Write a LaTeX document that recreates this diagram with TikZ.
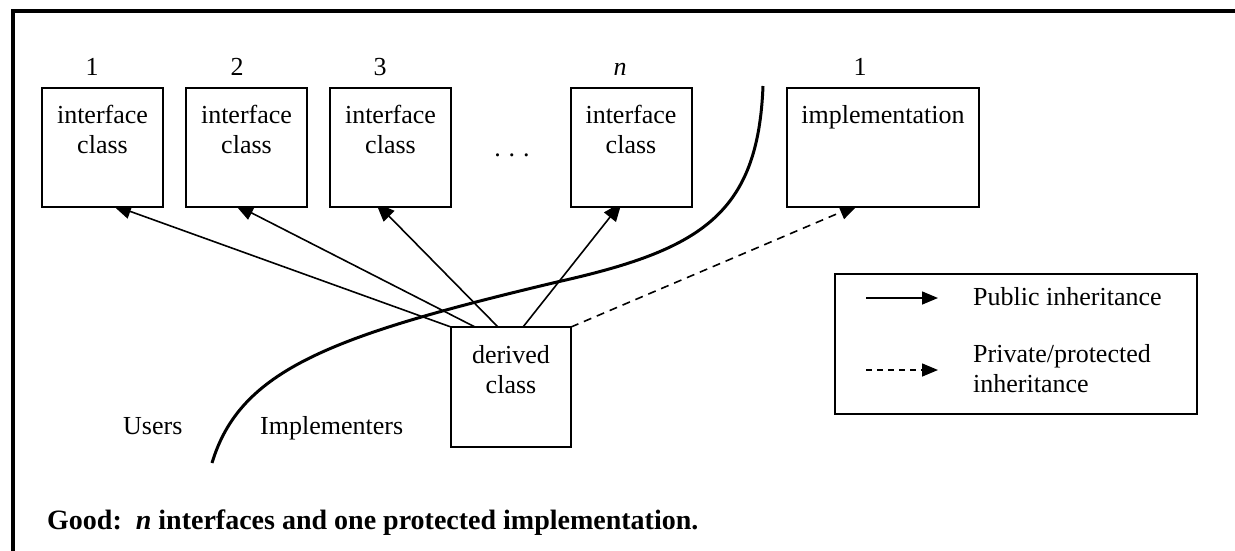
\documentclass[tikz,border=0pt]{standalone}
\usepackage{fontspec}
\setmainfont{Liberation Serif}
\usetikzlibrary{arrows.meta}
\pgfdeclarelayer{background}
\pgfsetlayers{background,main}
\begin{document}
\begin{tikzpicture}[x=1pt,y=-1pt,
  cls/.style={draw, line width=2pt, fill=white, minimum width=121pt, minimum height=119pt, anchor=north west, inner sep=0pt, outer sep=0pt},
  txt/.style={font=\fontsize{26}{30}\selectfont, inner sep=0pt},
  boxtxt/.style={txt, anchor=base, text width=120pt, align=center},
  pub/.style={line width=1.6pt, -{Triangle[length=19pt,width=15pt]}, shorten >=-6pt},
  priv/.style={pub, dash pattern=on 8pt off 6pt},
  divider/.style={line width=3pt},
  frame/.style={line width=4pt}]
\useasboundingbox (0,0) rectangle (1235,550);
\draw[frame] (1240,11) -- (13,11) -- (13,555);

% classes
\node[cls] (i1) at (42,88) {};
\node[cls] (i2) at (186,88) {};
\node[cls] (i3) at (330,88) {};
\node[cls] (in) at (571,88) {};
\node[cls, minimum width=192pt] (im) at (787,88) {};
\node[cls, minimum width=120pt, minimum height=120pt] (d) at (451,327) {};

\node[boxtxt] (i1t) at (102.5,123) {interface\\class};
\node[boxtxt] (i2t) at (246.5,123) {interface\\class};
\node[boxtxt] (i3t) at (390.5,123) {interface\\class};
\node[boxtxt] (int) at (631,123) {interface\\class};
\node[boxtxt, text width=190pt] (imt) at (883,123) {implementation};
\node[boxtxt] (dt) at (511,363) {derived\\class};

\node[txt, anchor=base] (l1) at (92,75) {1};
\node[txt, anchor=base] (l2) at (237,75) {2};
\node[txt, anchor=base] (l3) at (380,75) {3};
\node[txt, anchor=base] (ln) at (620,75) {\textit{n}};
\node[txt, anchor=base] (l5) at (860,75) {1};
\node[txt, anchor=base] (dots) at (512,156) {.\kern8pt.\kern8pt.};

% inheritance arrows
\begin{pgfonlayer}{background}
\draw[pub] (d.north west) -- ([xshift=76pt]i1.south west);
\draw[pub] ([xshift=24pt]d.north west) -- ([xshift=54pt]i2.south west);
\draw[pub] ([xshift=47pt]d.north west) -- ([xshift=50pt]i3.south west);
\draw[pub] ([xshift=72pt]d.north west) -- ([xshift=47pt]in.south west);
\draw[priv] (d.north east) -- ([xshift=66pt]im.south west);
\end{pgfonlayer}

% divider curve
\coordinate (c1) at (763,86);
\coordinate (c2) at (557,282);
\coordinate (c3) at (212,463);
\draw[divider] (c1) .. controls (758,215) and (700,250) .. (c2)
  .. controls (330,336) and (240,370) .. (c3);

\node[txt, anchor=base west] (users) at (123,434) {Users};
\node[txt, anchor=base west] (impl) at (260,434) {Implementers};

% legend
\node[draw, line width=2pt, minimum width=362pt, minimum height=140pt, anchor=north west, inner sep=0pt] (leg) at (834,273) {};
\coordinate (ls1) at (866,298);
\coordinate (ls2) at (938,298);
\coordinate (ld1) at (866,370);
\coordinate (ld2) at (938,370);
\draw[line width=1.5pt, -{Triangle[length=16pt,width=13pt]}] (ls1) -- (ls2);
\draw[line width=1.5pt, dash pattern=on 6pt off 5pt, -{Triangle[length=16pt,width=13pt]}] (ld1) -- (ld2);
\node[txt, anchor=base west] (lp) at (973,305) {Public inheritance};
\node[txt, anchor=base west, text width=220pt, align=left] (lq) at (973,362) {Private/protected\\inheritance};

% caption
\node[anchor=base west, inner sep=0pt, font=\fontsize{28}{32}\selectfont\bfseries] (cap) at (47,529) {Good:\ \ \textit{n} interfaces and one protected implementation.};
\end{tikzpicture}
\end{document}
